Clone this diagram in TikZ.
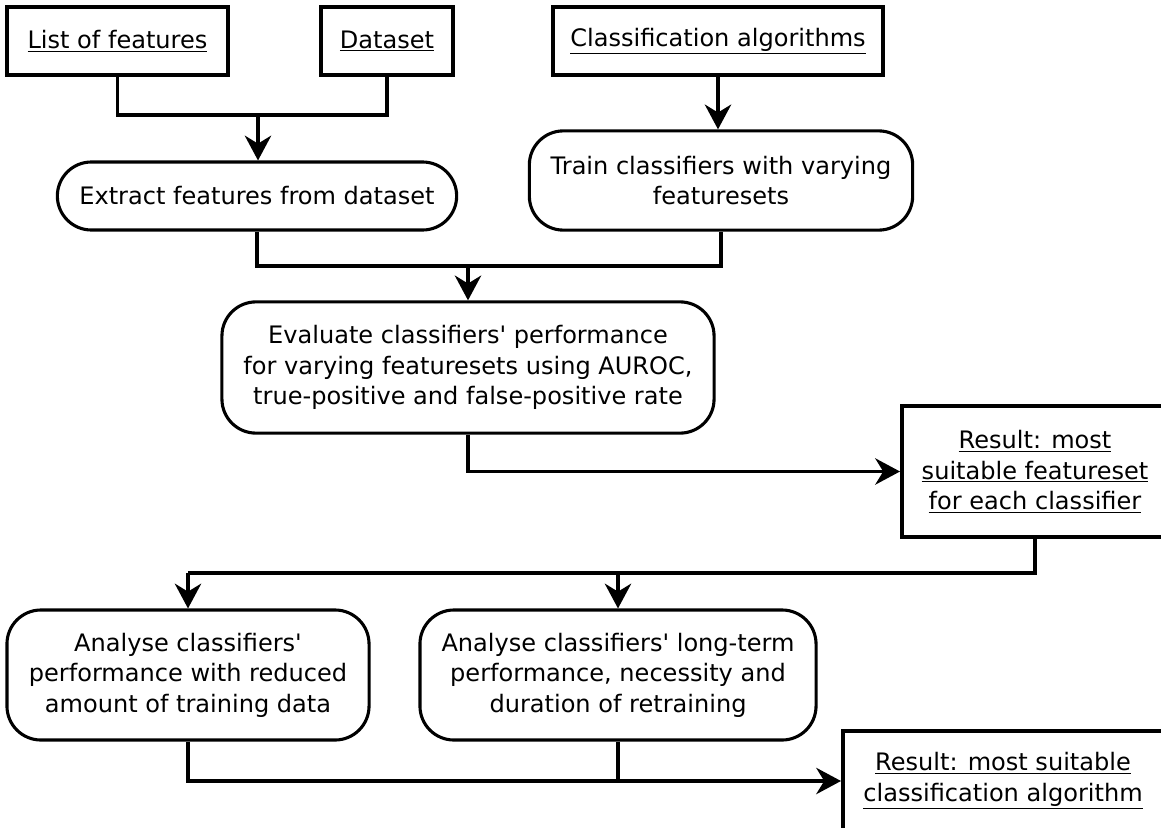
\documentclass[tikz,border=0pt]{standalone}
\usepackage{fontspec}
\setmainfont{DejaVu Sans}
\usetikzlibrary{arrows.meta}

\begin{document}
\begin{tikzpicture}[%
        x = 0.025cm,
        y = -0.025cm,
        line width = 2.2pt,
        > = {Stealth[length = 0.62cm, width = 0.66cm, inset = 0.2cm]},
        font = \fontsize{17.1pt}{21.7pt}\selectfont,
        inbox/.style = {
            draw = black,
            line width = 2.8pt,
            rectangle,
            align = center,
            inner sep = 0
        },
        stepbox/.style = {
            draw = black,
            rectangle,
            rounded corners = 0.85cm,
            align = center,
            inner sep = 0
        }
    ]

        \useasboundingbox (0, 0) rectangle (1161, 827);

        % Inputs along the top.
        \node[inbox, minimum width = 5.52cm, minimum height = 1.7cm]
            at (117.5, 41) (feat) {\underline{List of features}};
        \node[inbox, minimum width = 3.3cm, minimum height = 1.7cm]
            at (387, 41) (data) {\underline{Dataset}};
        \node[inbox, minimum width = 8.25cm, minimum height = 1.7cm]
            at (718, 41) (algo) {\underline{Classification algorithms}};

        % Processing steps.
        \node[stepbox, minimum width = 9.98cm, minimum height = 1.7cm]
            at (257, 196) (extract) {Extract features from dataset};
        \node[stepbox, minimum width = 9.58cm, minimum height = 2.48cm]
            at (721, 180.5) (train) {Train classifiers with varying\\featuresets};
        \node[stepbox, minimum width = 12.3cm, minimum height = 3.28cm]
            at (468, 367.5) (eval) {Evaluate classifiers\textquotesingle{} performance\\for varying featuresets using AUROC,\\true-positive and false-positive rate};
        \node[inbox, minimum width = 6.65cm, minimum height = 3.28cm]
            at (1035, 471.5) (res1) {\underline{Result: most}\\\underline{suitable featureset}\\\underline{for each classifier}};
        \node[stepbox, minimum width = 9.05cm, minimum height = 3.25cm]
            at (188, 675) (ana1) {Analyse classifiers\textquotesingle\\performance with reduced\\amount of training data};
        \node[stepbox, minimum width = 9.9cm, minimum height = 3.25cm]
            at (618, 675) (ana2) {Analyse classifiers\textquotesingle{} long-term\\performance, necessity and\\duration of retraining};
        \node[inbox, minimum width = 8.0cm, minimum height = 2.5cm]
            at (1003, 781) (res2) {\underline{Result: most suitable}\\\underline{classification algorithm}};

        % Junction points of the connectors.
        \coordinate (j1) at (258, 115);
        \coordinate (j2) at (468, 266);
        \coordinate (j3) at (188, 573);

        % Features and dataset into extraction.
        \draw (feat.south) |- (j1) -| (data.south);
        \draw[->] (j1) -- (j1 |- extract.north);
        \draw[->] (algo.south) -- (algo.south |- train.north);

        % Extraction and training into evaluation.
        \draw (extract.south) |- (j2) -| (train.south);
        \draw[->] (j2) -- (eval.north);
        \draw[->] (eval.south) |- (res1.west);

        % Result splits into the two analyses.
        \draw (res1.south) |- (j3);
        \draw[->] (j3) -- (ana1.north);
        \draw[->] (ana2.north |- j3) -- (ana2.north);

        % Analyses into the final result.
        \draw[->] (ana1.south) |- (res2.west);
        \draw (ana2.south) -- (ana2.south |- res2.west);
    \end{tikzpicture}
\end{document}
